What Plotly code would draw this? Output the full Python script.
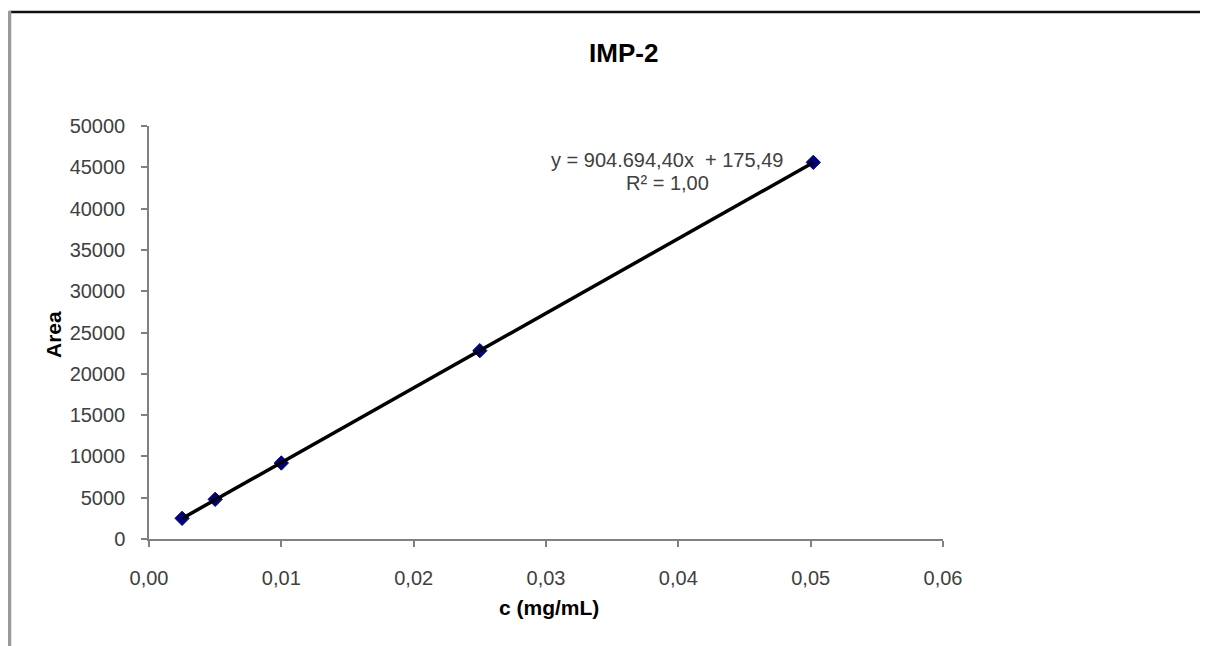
import numpy as np
import plotly.graph_objects as go

# Data
conc = [0.0025, 0.005, 0.01, 0.025, 0.0502]
area = [2500, 4800, 9200, 22800, 45600]
x_ticks = [0, 0.01, 0.02, 0.03, 0.04, 0.05, 0.06]
y_ticks = [0, 5000, 10000, 15000, 20000, 25000, 30000, 35000, 40000, 45000, 50000]
title_text = "IMP-2"
x_title = "c (mg/mL)"
y_title = "Area"
eq_line1 = "y = 904.694,40x  + 175,49"
eq_line2 = "R² = 1,00"

# Linear trendline from data
slope, intercept = np.polyfit(conc, area, 1)
tx = np.array([min(conc), max(conc)])
ty = slope * tx + intercept

FONT = "Liberation Sans, Arial, sans-serif"
TXT = "#404040"
AX = "#808080"

fig = go.Figure()
fig.add_trace(go.Scatter(
    x=conc, y=area, mode="markers",
    marker=dict(symbol="diamond", size=11, color="#000080",
                line=dict(color="#000080", width=1)),
    showlegend=False, hoverinfo="skip"))
fig.add_trace(go.Scatter(
    x=tx, y=ty, mode="lines",
    line=dict(color="#000000", width=3.5),
    showlegend=False, hoverinfo="skip"))

OFF = 8  # page body margin
L, R, T, B = 149 - OFF, 943 - OFF, 126 - OFF, 539 - OFF
W, H = 1208 - OFF, 646 - OFF

def px_x(px):
    return (px - OFF - L) / (R - L)

def px_y(py):
    return (B - (py - OFF)) / (B - T)

fig.update_layout(
    width=W, height=H,
    margin=dict(l=L, r=W - R, t=T, b=H - B, pad=0),
    paper_bgcolor="white", plot_bgcolor="white",
    separators=",.",
    font=dict(family=FONT, color=TXT, size=20),
    xaxis=dict(range=[0, 0.06], tickvals=x_ticks, tickformat=".2f",
               showgrid=False, zeroline=False, showline=True,
               linecolor=AX, linewidth=1.5, ticks="outside",
               tickcolor=AX, ticklen=6, tickwidth=1.5,
               tickfont=dict(size=20, color=TXT, family=FONT),
               ticklabelstandoff=14),
    yaxis=dict(range=[0, 50000], tickvals=y_ticks, tickformat="d",
               showgrid=False, zeroline=False, showline=True,
               linecolor=AX, linewidth=1.5, ticks="outside",
               tickcolor=AX, ticklen=6, tickwidth=1.5,
               tickfont=dict(size=20, color=TXT, family=FONT),
               ticklabelstandoff=12),
    annotations=[
        dict(text="<b>" + title_text + "</b>", x=px_x(623), y=px_y(53),
             xref="paper", yref="paper", showarrow=False,
             xanchor="center", yanchor="middle",
             font=dict(size=26, color="#000000", family=FONT)),
        dict(text="<b>" + x_title + "</b>", x=px_x(549), y=px_y(607),
             xref="paper", yref="paper", showarrow=False,
             xanchor="center", yanchor="middle",
             font=dict(size=21, color="#000000", family=FONT)),
        dict(text="<b>" + y_title + "</b>", x=px_x(53), y=px_y(335),
             xref="paper", yref="paper", showarrow=False, textangle=-90,
             xanchor="center", yanchor="middle",
             font=dict(size=21, color="#000000", family=FONT)),
        dict(text=eq_line1.replace("  ", " &nbsp;"), x=px_x(667), y=px_y(160),
             xref="paper", yref="paper", showarrow=False,
             xanchor="center", yanchor="middle",
             font=dict(size=20, color=TXT, family=FONT)),
        dict(text=eq_line2, x=px_x(667), y=px_y(183),
             xref="paper", yref="paper", showarrow=False,
             xanchor="center", yanchor="middle",
             font=dict(size=20, color=TXT, family=FONT)),
    ],
    shapes=[
        dict(type="line", xref="paper", yref="paper",
             x0=px_x(9), x1=px_x(1215), y0=px_y(12), y1=px_y(12),
             line=dict(color="#101010", width=2.5)),
        dict(type="line", xref="paper", yref="paper",
             x0=px_x(9.5), x1=px_x(9.5), y0=px_y(11), y1=px_y(655),
             line=dict(color="#9a9a9a", width=3.5)),
    ],
)

fig.write_html("out.html")
